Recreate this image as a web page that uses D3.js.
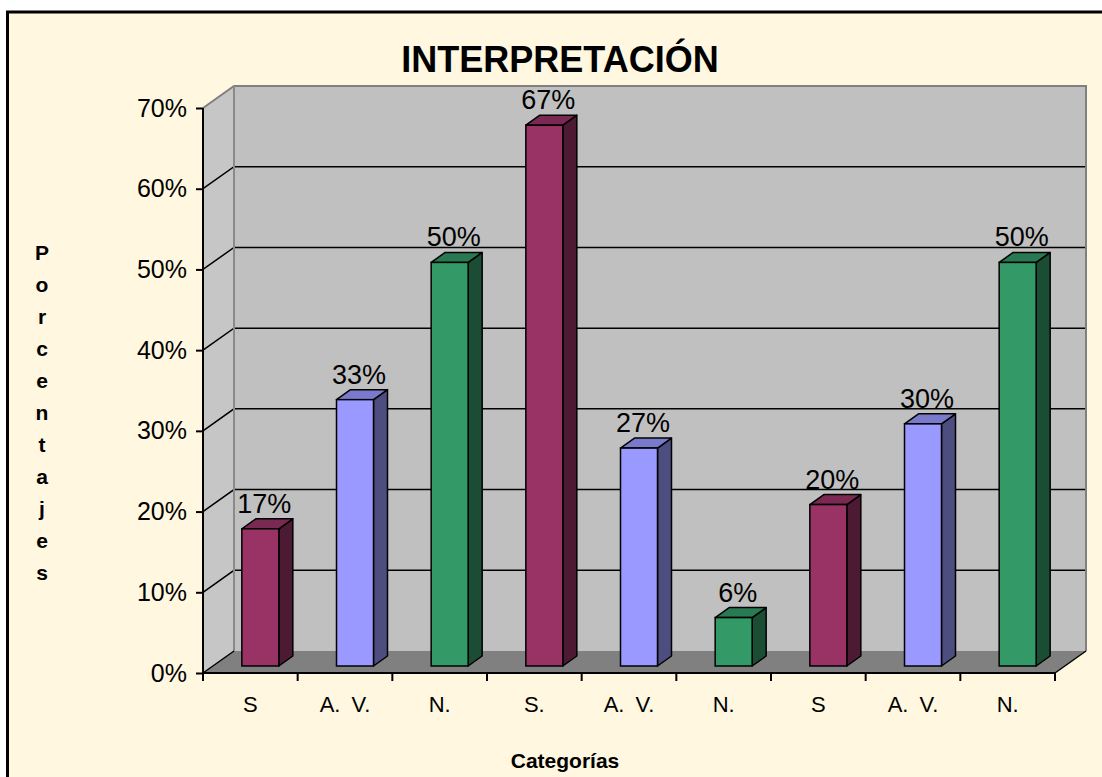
<!DOCTYPE html>
<html>
<head>
<meta charset="utf-8">
<script src="https://cdn.jsdelivr.net/npm/d3@7"></script>
<style>
  body { margin: 0; background: #fff; }
  svg { display: block; }
</style>
</head>
<body>
<script>
// chart data
const categories = ["S", "A. V.", "N.", "S.", "A. V.", "N.", "S", "A. V.", "N."];
const values = [0.17, 0.33, 0.50, 0.67, 0.27, 0.06, 0.20, 0.30, 0.50];
const seriesOf = [0, 1, 2, 0, 1, 2, 0, 1, 2];
const yTicks = [0, 0.1, 0.2, 0.3, 0.4, 0.5, 0.6, 0.7];
const yTitle = "Porcentajes";

const W = 1102, H = 777;
// front, top, side shades per series
const palette = [
    { front: "#993366", top: "#7a2952", side: "#4d1a33" },
    { front: "#9999ff", top: "#7a7acc", side: "#4d4d80" },
    { front: "#339966", top: "#297a52", side: "#1a4d33" }
];
const FONT = "Liberation Sans, Arial, sans-serif";

const svg = d3.select("body").append("svg")
    .attr("width", W).attr("height", H);

// chart area background + frame
svg.append("rect")
    .attr("x", 7.5).attr("y", 12).attr("width", 1110).attr("height", 790)
    .attr("fill", "#fff7df").attr("stroke", "#000").attr("stroke-width", 3);

const x = d3.scaleBand().domain(d3.range(categories.length)).range([203, 1055]);
const y = d3.scaleLinear().domain([0, 0.7]).range([673, 108]);
const DX = 31, DY = -22;     // wall depth
const x0 = x.range()[0], x1 = x.range()[1];

const pts = a => a.map(p => p.join(",")).join(" ");

// left side wall
svg.append("polygon")
    .attr("points", pts([[x0, y(0.7)], [x0 + DX, y(0.7) + DY], [x0 + DX, y(0) + DY], [x0, y(0)]]))
    .attr("fill", "#c6c6c6");
// back wall
svg.append("rect")
    .attr("x", x0 + DX).attr("y", y(0.7) + DY)
    .attr("width", x1 - x0).attr("height", y(0) - y(0.7))
    .attr("fill", "#c0c0c0");
// floor
svg.append("polygon")
    .attr("points", pts([[x0, y(0)], [x0 + DX, y(0) + DY], [x1 + DX, y(0) + DY], [x1, y(0)]]))
    .attr("fill", "#808080");

// gridlines
const grid = svg.append("g");
yTicks.filter(t => t > 0 && t < 0.7).forEach(t => {
    grid.append("polyline")
        .attr("points", pts([[x0, y(t)], [x0 + DX, y(t) + DY], [x1 + DX, y(t) + DY]]))
        .attr("fill", "none").attr("stroke", "#000").attr("stroke-width", 1.5);
});

// wall edges
svg.append("polyline")
    .attr("points", pts([[x0, y(0.7)], [x0 + DX, y(0.7) + DY], [x1 + DX, y(0.7) + DY], [x1 + DX, y(0) + DY]]))
    .attr("fill", "none").attr("stroke", "#808080").attr("stroke-width", 2);
svg.append("line")
    .attr("x1", x0 + DX).attr("y1", y(0.7) + DY).attr("x2", x0 + DX).attr("y2", y(0) + DY)
    .attr("stroke", "#8a8a8a").attr("stroke-width", 2);
svg.append("polyline")
    .attr("points", pts([[x0, y(0)], [x0 + DX, y(0) + DY]]))
    .attr("fill", "none").attr("stroke", "#000").attr("stroke-width", 1.5);
svg.append("polyline")
    .attr("points", pts([[x1, y(0)], [x1 + DX, y(0) + DY]]))
    .attr("fill", "none").attr("stroke", "#000").attr("stroke-width", 1.5);

// bars
const BW = 37, BDX = 14, BDY = -10, base = y(0) - 7;
const bars = svg.append("g").selectAll("g").data(values).join("g");
bars.each(function (v, i) {
    const g = d3.select(this);
    const c = palette[seriesOf[i]];
    const l = x(i) + x.bandwidth() / 2 + 10 - BW / 2, r = l + BW;
    const t = y(v) - 7;
    g.append("polygon")
        .attr("points", pts([[r, t], [r + BDX, t + BDY], [r + BDX, base + BDY], [r, base]]))
        .attr("fill", c.side).attr("stroke", "#000").attr("stroke-width", 1.5).attr("stroke-linejoin", "round");
    g.append("polygon")
        .attr("points", pts([[l, t], [l + BDX, t + BDY], [r + BDX, t + BDY], [r, t]]))
        .attr("fill", c.top).attr("stroke", "#000").attr("stroke-width", 1.5).attr("stroke-linejoin", "round");
    g.append("rect")
        .attr("x", l).attr("y", t).attr("width", BW).attr("height", base - t)
        .attr("fill", c.front).attr("stroke", "#000").attr("stroke-width", 1.5);
    g.append("text")
        .attr("x", l + BW / 2 + 4).attr("y", t - 16)
        .attr("text-anchor", "middle")
        .attr("font-family", FONT).attr("font-size", 27)
        .text(d3.format(".0%")(v));
});

// y axis
const yAxis = svg.append("g")
    .attr("transform", `translate(${x0},0)`)
    .call(d3.axisLeft(y).tickValues(yTicks).tickFormat(d3.format(".0%")).tickSize(7).tickPadding(9));
yAxis.select(".domain").attr("stroke", "#000").attr("stroke-width", 2).attr("d", `M0,${y(0.7)}V${y(0)}`);
yAxis.selectAll(".tick line").attr("stroke", "#000").attr("stroke-width", 2);
yAxis.selectAll(".tick text")
    .attr("font-family", FONT).attr("font-size", 25).attr("fill", "#000");

// x axis
svg.append("line")
    .attr("x1", x0).attr("y1", y(0)).attr("x2", x1).attr("y2", y(0))
    .attr("stroke", "#000").attr("stroke-width", 2);
svg.append("g").selectAll("line").data(d3.range(categories.length + 1)).join("line")
    .attr("x1", i => x0 + i * x.bandwidth()).attr("x2", i => x0 + i * x.bandwidth())
    .attr("y1", y(0)).attr("y2", y(0) + 8)
    .attr("stroke", "#000").attr("stroke-width", 2);
svg.append("g").selectAll("text").data(categories).join("text")
    .attr("x", (d, i) => x(i) + x.bandwidth() / 2).attr("y", 712)
    .attr("text-anchor", "middle")
    .attr("font-family", FONT).attr("font-size", 22).attr("word-spacing", 5)
    .text(d => d);

// titles
svg.append("text")
    .attr("x", 560).attr("y", 72).attr("text-anchor", "middle")
    .attr("font-family", FONT).attr("font-size", 36).attr("font-weight", "bold")
    .text("INTERPRETACIÓN");
svg.append("text")
    .attr("x", 565).attr("y", 768).attr("text-anchor", "middle")
    .attr("font-family", FONT).attr("font-size", 21).attr("font-weight", "bold")
    .text("Categorías");
svg.append("g").selectAll("text").data(yTitle.split("")).join("text")
    .attr("x", 42).attr("y", (d, i) => 260 + i * 32)
    .attr("text-anchor", "middle")
    .attr("font-family", FONT).attr("font-size", 21).attr("font-weight", "bold")
    .text(d => d);
</script>
</body>
</html>
